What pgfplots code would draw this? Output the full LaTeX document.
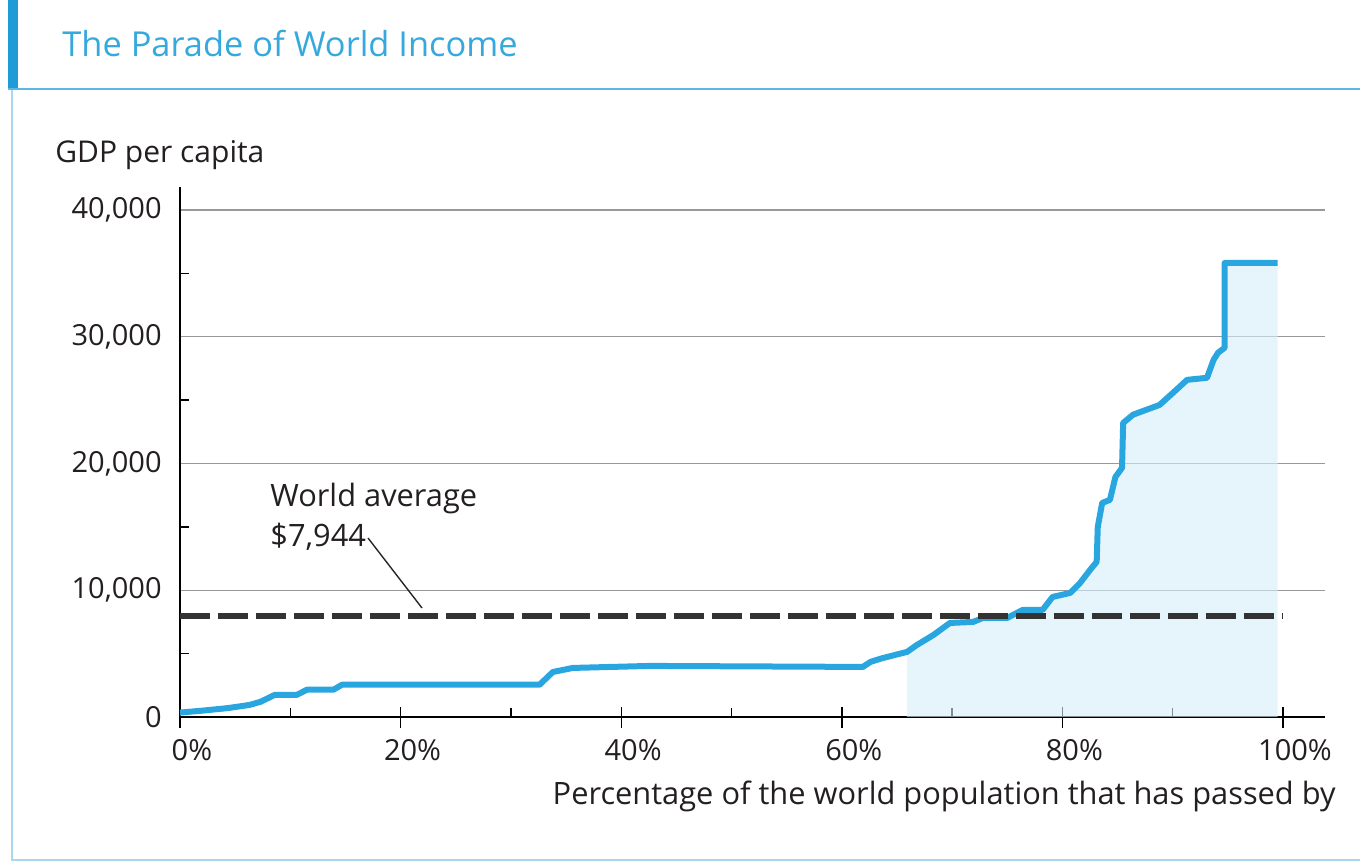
\documentclass[border=0pt]{standalone}
\usepackage{pgfplots}
\pgfplotsset{compat=1.18}
\usepackage{fontspec}
\setmainfont{Open Sans}
\definecolor{curveblue}{HTML}{29A6E0}
\definecolor{titleblue}{HTML}{36A9DC}
\definecolor{barblue}{HTML}{1F9BD7}
\definecolor{lineblue}{HTML}{5BB8E4}
\definecolor{frameblue}{HTML}{A8D8EF}
\definecolor{fillblue}{HTML}{D6EFFA}
\definecolor{txt}{HTML}{231F20}
\begin{document}
\begin{tikzpicture}
\begin{scope}[x=0.5pt,y=0.5pt]
\useasboundingbox (0,0) rectangle (1360,862);
\fill[barblue] (8,862) rectangle (18,772);
\draw[lineblue, line width=1.2pt] (8,773) -- (1360,773);
\draw[frameblue, line width=0.6pt] (12,772) -- (12,2) -- (1360,2);
\node[anchor=base west, inner sep=0pt, text=titleblue, font=\fontsize{17.2}{20}\selectfont] at (62,805) {The Parade of World Income};
\end{scope}
\begin{axis}[
  at={(90pt,72.5pt)}, anchor=south west,
  scale only axis, width=572.5pt, height=265pt,
  xmin=0, xmax=103.8, ymin=0, ymax=41814,
  axis x line=bottom, axis y line=left,
  axis line style={-, line width=0.9pt, black},
  xtick={0,20,40,60,80,100},
  xticklabels={0\rlap{\%},20\rlap{\%},40\rlap{\%},60\rlap{\%},80\rlap{\%},100\rlap{\%}},
  ytick={0,10000,20000,30000,40000},
  yticklabels={0,{10,000},{20,000},{30,000},{40,000}},
  scaled y ticks=false, scaled x ticks=false,
  minor tick num=1,
  tick align=inside,
  major tick length=10.5pt,
  minor tick length=4.5pt,
  every major x tick/.append style={yshift=-5.5pt, line width=0.7pt, black},
  every minor x tick/.append style={line width=0.7pt, black},
  every major y tick/.append style={draw=none},
  every minor y tick/.append style={line width=0.7pt, black},
  ymajorgrids,
  major grid style={gray!80, line width=0.6pt},
  tick label style={font=\fontsize{14.5}{16}\selectfont, text=txt},
  xticklabel style={anchor=north, inner sep=0pt, yshift=-11pt},
  yticklabel style={anchor=east, inner sep=0pt, xshift=-9pt},
  /pgf/number format/assume math mode=true,
  clip=false,
]
\addplot[draw=none, fill=fillblue, fill opacity=0.6] coordinates {
(65.9,5130) (66.8,5680) (68.3,6470) (69.8,7420) (71.9,7500) (72.8,7820) (75.0,7820)
(76.4,8450) (78.2,8450) (79.1,9470) (80.7,9790) (81.6,10580) (82.5,11600) (83.1,12240)
(83.2,15000) (83.6,16890) (84.3,17130) (84.8,18940) (85.4,19650) (85.5,23200) (86.4,23850)
(88.8,24620) (90.0,25560) (91.3,26600) (93.1,26760) (93.7,28180) (94.1,28730) (94.7,29130)
(94.7,35820) (99.5,35820)
} \closedcycle;
\addplot[curveblue, line width=3pt, line join=round] coordinates {
(0,350) (2,500) (4.3,700) (6.3,950) (7.3,1200) (8.6,1750) (10.6,1750) (11.5,2150)
(13.9,2150) (14.7,2550) (32.6,2550) (33.8,3550) (35.6,3870) (42.6,4030) (61.9,3950)
(62.6,4350) (63.7,4650) (65.9,5130) (66.8,5680) (68.3,6470) (69.8,7420) (71.9,7500)
(72.8,7820) (75.0,7820) (76.4,8450) (78.2,8450) (79.1,9470) (80.7,9790) (81.6,10580)
(82.5,11600) (83.1,12240) (83.2,15000) (83.6,16890) (84.3,17130) (84.8,18940) (85.4,19650)
(85.5,23200) (86.4,23850) (88.8,24620) (90.0,25560) (91.3,26600) (93.1,26760) (93.7,28180)
(94.1,28730) (94.7,29130) (94.7,35820) (99.5,35820)
};
\addplot[black!80, line width=3pt, dash pattern=on 15pt off 4pt] coordinates {(0,7944) (100,7944)};
\end{axis}
\begin{scope}[x=0.5pt,y=0.5pt]
\draw[black!85, line width=0.7pt] (368,324) -- (422,254);
\node[anchor=base west, inner sep=0pt, text=txt, font=\fontsize{15.4}{18}\selectfont] at (270,355) {World average};
\node[anchor=base west, inner sep=0pt, text=txt, font=\fontsize{15.4}{18}\selectfont] at (270,315) {\$7,944};
\node[anchor=base west, inner sep=0pt, text=txt, font=\fontsize{15}{18}\selectfont] at (55,699) {GDP per capita};
\node[anchor=base east, inner sep=0pt, text=txt, font=\fontsize{15.4}{18}\selectfont] at (1336,57) {Percentage of the world population that has passed by};
\end{scope}
\end{tikzpicture}
\end{document}
